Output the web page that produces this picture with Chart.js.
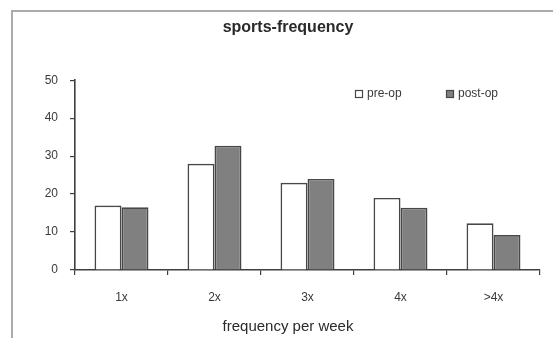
<!DOCTYPE html>
<html>
<head>
<meta charset="utf-8">
<script src="https://cdn.jsdelivr.net/npm/chart.js@4/dist/chart.umd.min.js"></script>
<style>
  html, body { margin: 0; padding: 0; background: #fff; }
  #wrap { width: 553px; height: 338px; position: relative; }
</style>
</head>
<body>
<div id="wrap"><canvas id="c" width="553" height="338"></canvas></div>
<script>
// Weekly sports frequency before and after the operation (percent of patients)
const categories = ['1x', '2x', '3x', '4x', '>4x'];
const preOp = [17, 28, 23, 19, 12.3];
const postOp = [16.5, 32.7, 24, 16.4, 9.2];
const yTicks = [0, 10, 20, 30, 40, 50];
const xAxisTitle = 'frequency per week';

const FONT = '"Liberation Sans", Arial, sans-serif';
const TEXT = '#3a3a3a';
const AXIS = '#3f3f3f';

// Thin gray frame on the top and left edges
const framePlugin = {
  id: 'frame',
  beforeDraw(chart) {
    const ctx = chart.ctx;
    ctx.save();
    ctx.fillStyle = '#ffffff';
    ctx.fillRect(0, 0, chart.width, chart.height);
    ctx.fillStyle = '#ababab';
    ctx.fillRect(11, 10, chart.width - 11, 2);
    ctx.fillRect(11, 10, 2, chart.height - 10);
    ctx.restore();
  }
};

// Legend boxes drawn inside the plot area, top right
const innerLegend = {
  id: 'innerLegend',
  afterDraw(chart) {
    const ctx = chart.ctx;
    const xs = [355, 446];
    const y = 94;
    ctx.save();
    ctx.font = '12px ' + FONT;
    ctx.textBaseline = 'middle';
    ctx.textAlign = 'left';
    chart.data.datasets.forEach((ds, i) => {
      const x = xs[i];
      ctx.fillStyle = ds.backgroundColor;
      ctx.fillRect(x, y - 4, 8, 8);
      ctx.strokeStyle = ds.borderColor;
      ctx.lineWidth = 1.2;
      ctx.strokeRect(x + 0.5, y - 3.5, 7, 7);
      ctx.fillStyle = TEXT;
      ctx.fillText(ds.label, x + 12, y);
    });
    ctx.restore();
  }
};

// Category axis caption, centred under the plot
const axisCaption = {
  id: 'axisCaption',
  afterDraw(chart) {
    const ctx = chart.ctx;
    ctx.save();
    ctx.font = '15px ' + FONT;
    ctx.fillStyle = '#2a2a2a';
    ctx.textAlign = 'center';
    ctx.textBaseline = 'middle';
    ctx.fillText(xAxisTitle, 288, 327);
    ctx.restore();
  }
};

new Chart(document.getElementById('c'), {
  type: 'bar',
  data: {
    labels: categories,
    datasets: [
      {
        label: 'pre-op',
        data: preOp,
        backgroundColor: '#ffffff',
        borderColor: '#474747',
        borderWidth: 1.7
      },
      {
        label: 'post-op',
        data: postOp,
        backgroundColor: '#808080',
        borderColor: '#474747',
        borderWidth: 1.7
      }
    ]
  },
  options: {
    responsive: false,
    animation: false,
    devicePixelRatio: 1,
    layout: { padding: { left: 36, right: 13, top: 0, bottom: 2 } },
    datasets: {
      bar: { categoryPercentage: 0.58, barPercentage: 1.0 }
    },
    plugins: {
      legend: { display: false },
      tooltip: { enabled: false },
      title: {
        display: true,
        text: 'sports-frequency',
        color: '#2a2a2a',
        font: { family: FONT, size: 16, weight: 'bold' },
        padding: { top: 18, bottom: 43 }
      }
    },
    scales: {
      x: {
        offset: true,
        grid: {
          offset: true,
          drawOnChartArea: false,
          drawTicks: true,
          tickLength: 5,
          color: AXIS,
          lineWidth: 1.2
        },
        border: { display: true, color: AXIS, width: 1.6 },
        ticks: {
          color: TEXT,
          padding: 15,
          font: { family: FONT, size: 12 }
        },
        afterFit(scale) { scale.height = 66; }
      },
      y: {
        min: 0,
        max: 50,
        afterBuildTicks(scale) {
          scale.ticks = yTicks.map(v => ({ value: v }));
        },
        grid: {
          drawOnChartArea: false,
          drawTicks: true,
          tickLength: 5,
          color: AXIS,
          lineWidth: 1.2
        },
        border: { display: true, color: AXIS, width: 1.6 },
        ticks: {
          color: TEXT,
          padding: 12,
          font: { family: FONT, size: 12 }
        },
        afterFit(scale) { scale.width = 39; }
      }
    }
  },
  plugins: [framePlugin, innerLegend, axisCaption]
});
</script>
</body>
</html>
